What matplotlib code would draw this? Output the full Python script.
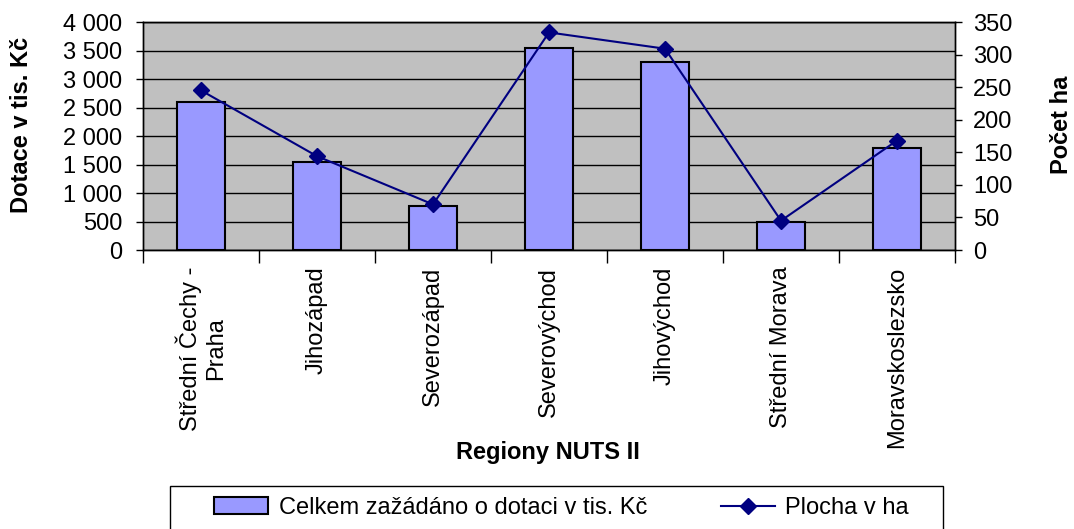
import matplotlib
matplotlib.use("Agg")
import matplotlib.pyplot as plt
import numpy as np
from matplotlib.ticker import FuncFormatter
from matplotlib.patches import Rectangle

categories = ["Střední Čechy -\nPraha", "Jihozápad", "Severozápad", "Severovýchod",
              "Jihovýchod", "Střední Morava", "Moravskoslezsko"]
dotace = [2600, 1540, 770, 3540, 3290, 490, 1790]
plocha = [245, 144, 70, 334, 309, 45, 168]
left_ticks = list(range(0, 4001, 500))
right_ticks = list(range(0, 351, 50))

plt.rcParams['font.family'] = ['Liberation Sans', 'DejaVu Sans']
FS = 17

W, H = 1074, 529
fig = plt.figure(figsize=(W / 100, H / 100), dpi=100)
ax = fig.add_axes([143 / W, 1 - 250 / H, 812 / W, 228 / H])
ax.set_facecolor('#C0C0C0')

x = np.arange(len(categories))
ax.bar(x, dotace, width=0.42, color='#9999FF', edgecolor='black', linewidth=1.5, zorder=3,
       label='Celkem zažádáno o dotaci v tis. Kč')
ax.set_xlim(-0.5, len(categories) - 0.5)
ax.set_ylim(0, 4000)
ax.set_yticks(left_ticks)
ax.yaxis.set_major_formatter(FuncFormatter(lambda v, p: f"{int(v):,}".replace(',', ' ')))
ax.yaxis.grid(True, color='black', linewidth=1.0)
ax.set_axisbelow(True)
ax.tick_params(axis='y', direction='out', length=5, width=1, labelsize=FS, pad=10)

ax.set_xticks(np.arange(-0.5, len(categories), 1))
ax.set_xticklabels([])
ax.set_xticks(x, minor=True)
ax.set_xticklabels(categories, minor=True, rotation=90, va='top', ha='center',
                   multialignment='center', fontsize=FS)
ax.tick_params(axis='x', which='minor', length=0, pad=12)
ax.tick_params(axis='x', which='major', direction='out', length=9, width=1)
for s in ax.spines.values():
    s.set_color('black')
    s.set_linewidth(1)

ax2 = ax.twinx()
ax2.plot(x, plocha, color='#000080', marker='D', markersize=8, linewidth=1.5,
         label='Plocha v ha')
ax2.set_ylim(0, 350)
ax2.set_yticks(right_ticks)
ax2.tick_params(axis='y', direction='out', length=5, width=1, labelsize=FS, pad=8)
for s in ax2.spines.values():
    s.set_color('black')
    s.set_linewidth(1)

fig.text(22 / W, 1 - 125 / H, 'Dotace v tis. Kč', rotation=90, ha='center', va='center',
         fontsize=FS, fontweight='bold')
fig.text(1061 / W, 1 - 125 / H, 'Počet ha', rotation=90, ha='center', va='center',
         fontsize=FS, fontweight='bold')
fig.text(548 / W, 1 - 452 / H, 'Regiony NUTS II', ha='center', va='center',
         fontsize=FS, fontweight='bold')

# legend frame
fig.patches.append(Rectangle((170 / W, -10 / H), (943 - 170) / W, (529 - 486 + 10) / H,
                             transform=fig.transFigure, facecolor='white',
                             edgecolor='black', linewidth=1))
h1, l1 = ax.get_legend_handles_labels()
h2, l2 = ax2.get_legend_handles_labels()
fig.legend(h1 + h2, l1 + l2, loc='center left', bbox_to_anchor=(214 / W, 1 - 508 / H),
           ncol=2, frameon=False, fontsize=FS, handlelength=2.3, handletextpad=0.45,
           columnspacing=3.1, borderpad=0, borderaxespad=0)

fig.savefig('out.png', dpi=100)
